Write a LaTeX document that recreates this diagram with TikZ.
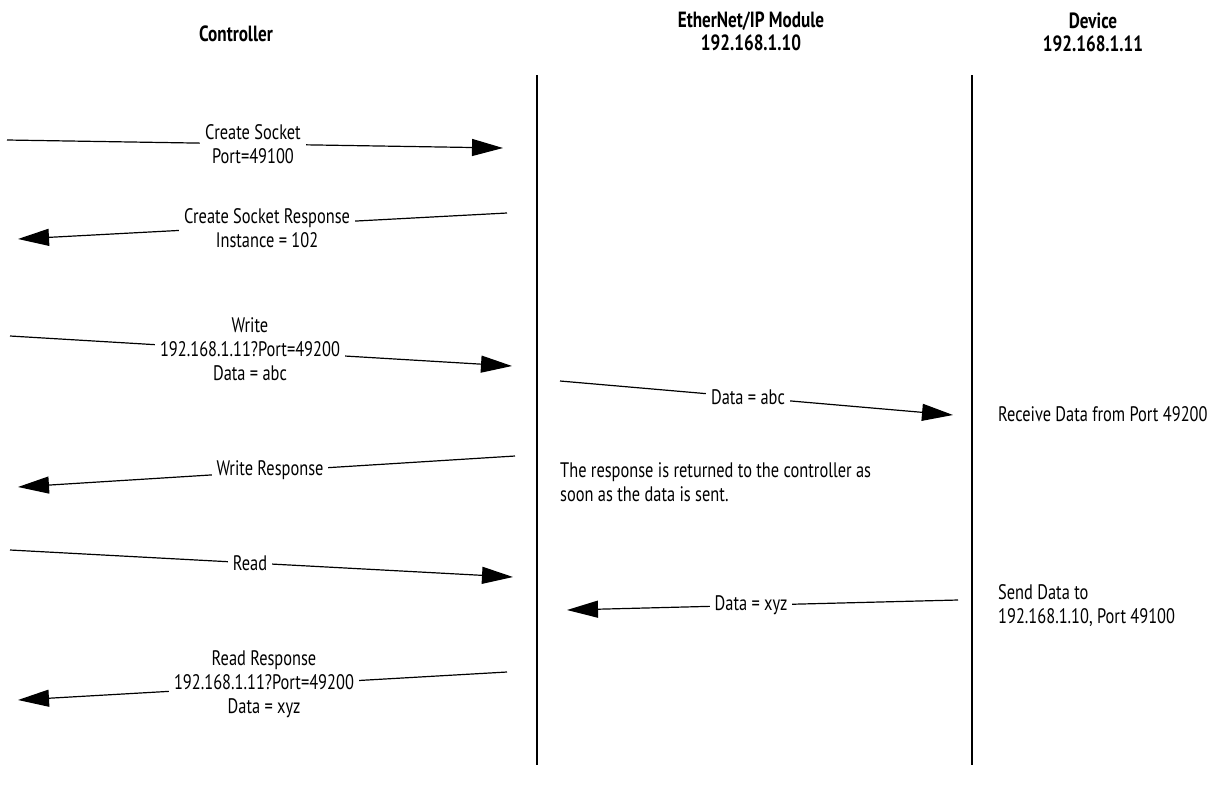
\documentclass[tikz,border=0pt]{standalone}
\usepackage{fontspec}
\setmainfont{PT Sans}[FakeStretch=0.78]
\usetikzlibrary{arrows.meta}
\begin{document}
\begin{tikzpicture}[x=1pt,y=-1pt,
  lifeline/.style={line width=2pt},
  msg/.style={line width=1.2pt,-{Triangle[length=31pt,width=17pt]}},
  lbl/.style={fill=white,inner xsep=5pt,inner ysep=1pt,align=center,font=\fontsize{21}{24}\selectfont},
  note/.style={inner sep=0pt,align=left,anchor=west,font=\fontsize{21}{24}\selectfont},
  hdr/.style={align=center,inner sep=0pt,font=\fontsize{22}{23}\selectfont\bfseries}]
\useasboundingbox (0,0) rectangle (1226,793);

% headers
\node[hdr] (hc) at (236,34) {Controller};
\node[hdr] (hm) at (751,31) {EtherNet/IP Module\\192.168.1.10};
\node[hdr] (hd) at (1093,32) {Device\\192.168.1.11};

% lifelines
\coordinate (mTop) at (537,75);
\coordinate (mBot) at (537,765);
\coordinate (dTop) at (972,75);
\coordinate (dBot) at (972,765);
\draw[lifeline] (mTop) -- (mBot);
\draw[lifeline] (dTop) -- (dBot);

% 1 Create Socket
\coordinate (a1s) at (7,140);
\coordinate (a1e) at (503,148);
\draw[msg] (a1s) -- (a1e);
\node[lbl] (l1) at (253,144) {Create Socket\\Port=49100};

% 2 Create Socket Response
\coordinate (a2s) at (507,213);
\coordinate (a2e) at (18,239);
\draw[msg] (a2s) -- (a2e);
\node[lbl] (l2) at (267,228) {Create Socket Response\\Instance = 102};

% 3 Write
\coordinate (a3s) at (10,336);
\coordinate (a3e) at (512,366);
\draw[msg] (a3s) -- (a3e);
\node[lbl] (l3) at (250,349) {Write\\192.168.1.11?Port=49200\\Data = abc};

% 4 Data = abc
\coordinate (a4s) at (560,381);
\coordinate (a4e) at (953,415);
\draw[msg] (a4s) -- (a4e);
\node[lbl] (l4) at (748,397) {Data = abc};
\node[note] (n4) at (998,414) {Receive Data from Port 49200};

% 5 Write Response
\coordinate (a5s) at (515,456);
\coordinate (a5e) at (18,487);
\draw[msg] (a5s) -- (a5e);
\node[lbl] (l5) at (270,470) {Write Response};
\node[note] (n5) at (560,482) {The response is returned to the controller as\\soon as the data is sent.};

% 6 Read
\coordinate (a6s) at (10,550);
\coordinate (a6e) at (513,577);
\draw[msg] (a6s) -- (a6e);
\node[lbl] (l6) at (250,563) {Read};

% 7 Data = xyz
\coordinate (a7s) at (958,600);
\coordinate (a7e) at (567,610);
\draw[msg] (a7s) -- (a7e);
\node[lbl] (l7) at (751,605) {Data = xyz};
\node[note] (n7) at (998,606) {Send Data to\\192.168.1.10, Port 49100};

% 8 Read Response
\coordinate (a8s) at (507,672);
\coordinate (a8e) at (18,700);
\draw[msg] (a8s) -- (a8e);
\node[lbl] (l8) at (264,684) {Read Response\\192.168.1.11?Port=49200\\Data = xyz};
\end{tikzpicture}
\end{document}
